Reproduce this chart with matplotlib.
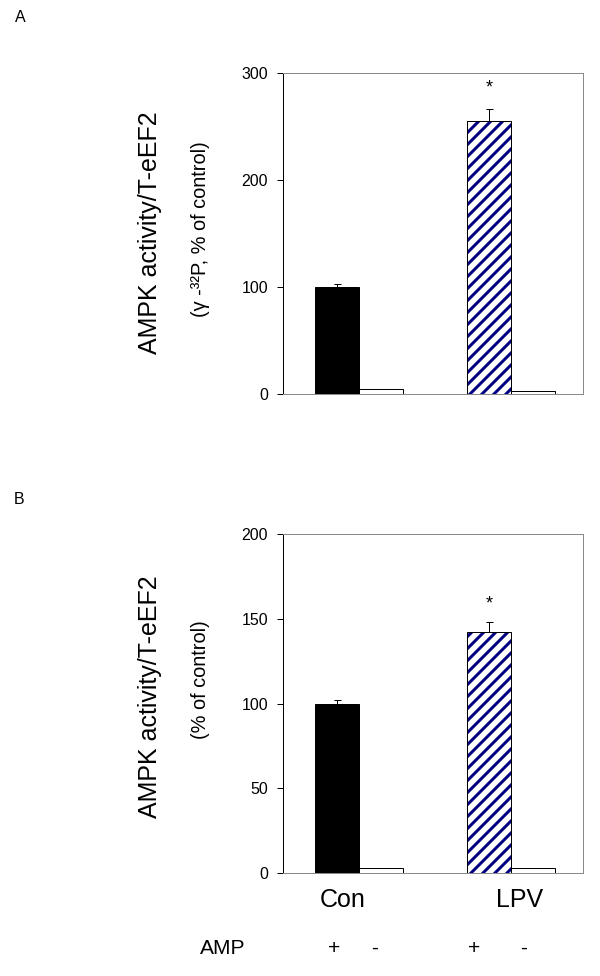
import matplotlib
matplotlib.use("Agg")
import matplotlib.pyplot as plt
import matplotlib.transforms as mtransforms

plt.rcParams['font.family'] = ['Liberation Sans', 'DejaVu Sans']
plt.rcParams['hatch.linewidth'] = 3.0

# ---- data ----
groups = ['Con', 'LPV']
amp_labels = ['+', '-', '+', '-']

a_plus = [100, 255]
a_plus_err = [3, 11]
a_minus = [4.5, 2.8]
a_star = 286
a_ticks = [0, 100, 200, 300]

b_plus = [100, 142]
b_plus_err = [2, 6]
b_minus = [3, 3]
b_star = 159
b_ticks = [0, 50, 100, 150, 200]

W, H, DPI = 600, 976, 72
fig = plt.figure(figsize=(W / DPI, H / DPI), dpi=DPI)

def px_axes(left, top, right, bottom):
    return fig.add_axes([left / W, 1 - bottom / H, (right - left) / W, (bottom - top) / H])

def draw_panel(ax, plus, plus_err, minus, star, ticks):
    x = [0, 1]
    bw = 0.29
    xp = [xi - bw / 2 for xi in x]
    xm = [xi + bw / 2 for xi in x]
    # black bar (Con +)
    ax.bar(xp[0], plus[0], width=bw, color='black', edgecolor='black', linewidth=1, zorder=3)
    # hatched bar (LPV +)
    ax.bar(xp[1], plus[1], width=bw, color='white', edgecolor='#000080', hatch='//',
           linewidth=0, zorder=3)
    ax.bar(xp[1], plus[1], width=bw, fill=False, edgecolor='black', linewidth=1, zorder=4)
    # white bars (AMP -)
    ax.bar(xm, minus, width=bw, color='white', edgecolor='black', linewidth=1, zorder=3)
    # error bars (upper only)
    ax.errorbar(xp, plus, yerr=[[0, 0], plus_err], fmt='none', ecolor='black',
                elinewidth=1, capsize=3.5, capthick=1, zorder=2)
    ax.text(xp[1], star, '*', ha='center', va='center', fontsize=18)
    ax.set_xlim(-0.5, 1.474)
    ax.set_ylim(ticks[0], ticks[-1])
    ax.set_yticks(ticks)
    ax.set_xticks([])
    ax.tick_params(axis='y', direction='out', length=6, width=1, pad=9, labelsize=16)
    for s in ['top', 'right', 'bottom']:
        ax.spines[s].set_color('#8a8a8a')
        ax.spines[s].set_linewidth(1)
    ax.spines['left'].set_color('black')
    ax.spines['left'].set_linewidth(1)
    return xp, xm

axA = px_axes(283, 73, 583, 394)
draw_panel(axA, a_plus, a_plus_err, a_minus, a_star, a_ticks)

axB = px_axes(283, 534, 583, 873)
xp, xm = draw_panel(axB, b_plus, b_plus_err, b_minus, b_star, b_ticks)

# group labels under panel B
trans = mtransforms.blended_transform_factory(axB.transData, axB.transAxes)
group_x = [-0.105, 1.059]
for gx, g in zip(group_x, groups):
    axB.text(gx, -0.08, g, transform=trans, ha='center', va='center', fontsize=25)

# AMP row
amp_x = [xp[0] - 0.02, xm[0] - 0.04, xp[1] - 0.1, xm[1] - 0.06]
for ax_, lab in zip(amp_x, amp_labels):
    axB.text(ax_, -0.222, lab, transform=trans, ha='center', va='center', fontsize=21)
fig.text(223 / W, 1 - 948 / H, 'AMP', ha='center', va='center', fontsize=21)

# y labels
fig.text(150 / W, 1 - 233 / H, 'AMPK activity/T-eEF2', rotation=90,
         ha='center', va='center', fontsize=25)
fig.text(201 / W, 1 - 229 / H, '(\u03b3 -\u00b3\u00b2P, % of control)', rotation=90,
         ha='center', va='center', fontsize=20)
fig.text(150 / W, 1 - 697 / H, 'AMPK activity/T-eEF2', rotation=90,
         ha='center', va='center', fontsize=25)
fig.text(201 / W, 1 - 680 / H, '(% of control)', rotation=90,
         ha='center', va='center', fontsize=20)

# panel letters
fig.text(20 / W, 1 - 18 / H, 'A', ha='center', va='center', fontsize=16)
fig.text(19 / W, 1 - 499 / H, 'B', ha='center', va='center', fontsize=16)

fig.savefig('out.png', dpi=DPI)
